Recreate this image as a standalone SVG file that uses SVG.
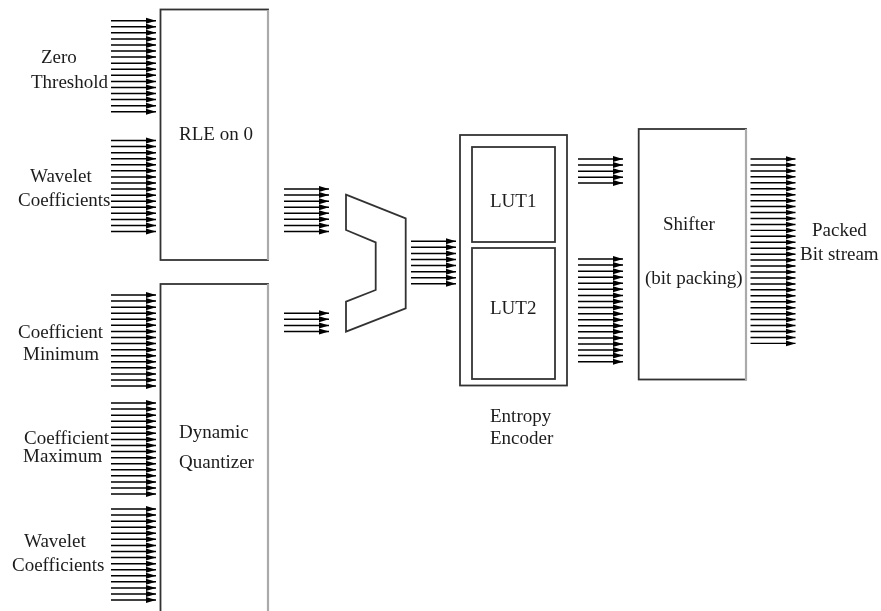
<svg xmlns="http://www.w3.org/2000/svg" xmlns:xlink="http://www.w3.org/1999/xlink" width="881" height="611" viewBox="0 0 881 611">
<style>
.b{fill:#fff;stroke:#333;stroke-width:1.8}
.e{fill:none;stroke:#aaa;stroke-width:2.2}
.w{stroke:#000;stroke-width:1.5;marker-end:url(#h)}
text{font-family:"Liberation Serif","Times New Roman",serif;font-size:19px;fill:#1c1c1c}
</style>
<defs>
<filter id="s" x="-2%" y="-2%" width="104%" height="104%"><feGaussianBlur stdDeviation="0.5"/></filter>
<marker id="h" markerUnits="userSpaceOnUse" markerWidth="12" markerHeight="8" refX="10" refY="3.5" orient="auto"><path d="M0 0.5L10 3.5L0 6.5z" fill="#000"/></marker>
<line id="w" class="w" x1="0" y1="0" x2="45" y2="0"/>
<g id="b2"><use href="#w"/><use href="#w" y="6.07"/></g>
<g id="b4"><use href="#b2"/><use href="#b2" y="12.14"/></g>
<g id="b8"><use href="#b4"/><use href="#b4" y="24.28"/></g>
<g id="b16"><use href="#b8"/><use href="#b8" y="48.56"/></g>
</defs>
<g filter="url(#s)">
<g id="rle"><rect class="b" x="160.5" y="9.5" width="107.5" height="250.5"/><line class="e" x1="268" y1="10" x2="268" y2="260"/><text x="179" y="140">RLE on 0</text></g>
<g id="quantizer"><rect class="b" x="160.5" y="284" width="107.5" height="340"/><line class="e" x1="268" y1="284" x2="268" y2="611"/><text x="179" y="438">Dynamic</text><text x="179" y="468">Quantizer</text></g>
<g id="mux"><path class="b" d="M346 194.7L405.7 218.3V308.3L346 331.7V301.7L375.7 290V242.3L346 230z"/></g>
<g id="entropy"><rect class="b" x="460" y="135" width="107" height="250.5"/><text x="490" y="421.7">Entropy</text><text x="490" y="444">Encoder</text></g>
<g id="lut1"><rect class="b" x="472" y="147" width="83" height="95"/><text x="490" y="206.7">LUT1</text></g>
<g id="lut2"><rect class="b" x="472" y="248" width="83" height="131"/><text x="490" y="314">LUT2</text></g>
<g id="shifter"><rect class="b" x="638.7" y="129" width="107.3" height="250.5"/><line class="e" x1="746" y1="129" x2="746" y2="380"/><text x="663" y="230">Shifter</text><text x="645" y="284">(bit packing)</text></g>
<g id="connectors">
<use href="#b16" x="111" y="20.7"/>
<use href="#b16" x="111" y="140.5"/>
<use href="#b16" x="111" y="295"/>
<use href="#b16" x="111" y="403"/>
<use href="#b16" x="111" y="509"/>
<use href="#b8" x="284" y="189"/>
<use href="#b4" x="284" y="313.3"/>
<use href="#b8" x="411" y="241.3"/>
<use href="#b4" x="578" y="159"/><use href="#w" x="578" y="183"/>
<use href="#b16" x="578" y="259"/><use href="#b2" x="578" y="355.6"/>
<g transform="translate(750.5 159) scale(1 .98)"><use href="#b16"/><use href="#b16" y="97.1"/></g>
</g>
<g id="labels">
<text x="41" y="63">Zero</text><text x="31" y="87.7">Threshold</text>
<text x="30" y="181.7">Wavelet</text><text x="18" y="206">Coefficients</text>
<text x="18" y="338">Coefficient</text><text x="23" y="360">Minimum</text>
<text x="24" y="444">Coefficient</text><text x="23" y="461.7">Maximum</text>
<text x="24" y="546.7">Wavelet</text><text x="12" y="570.7">Coefficients</text>
<text x="812" y="236">Packed</text><text x="800" y="260">Bit stream</text>
</g>
</g>
</svg>
